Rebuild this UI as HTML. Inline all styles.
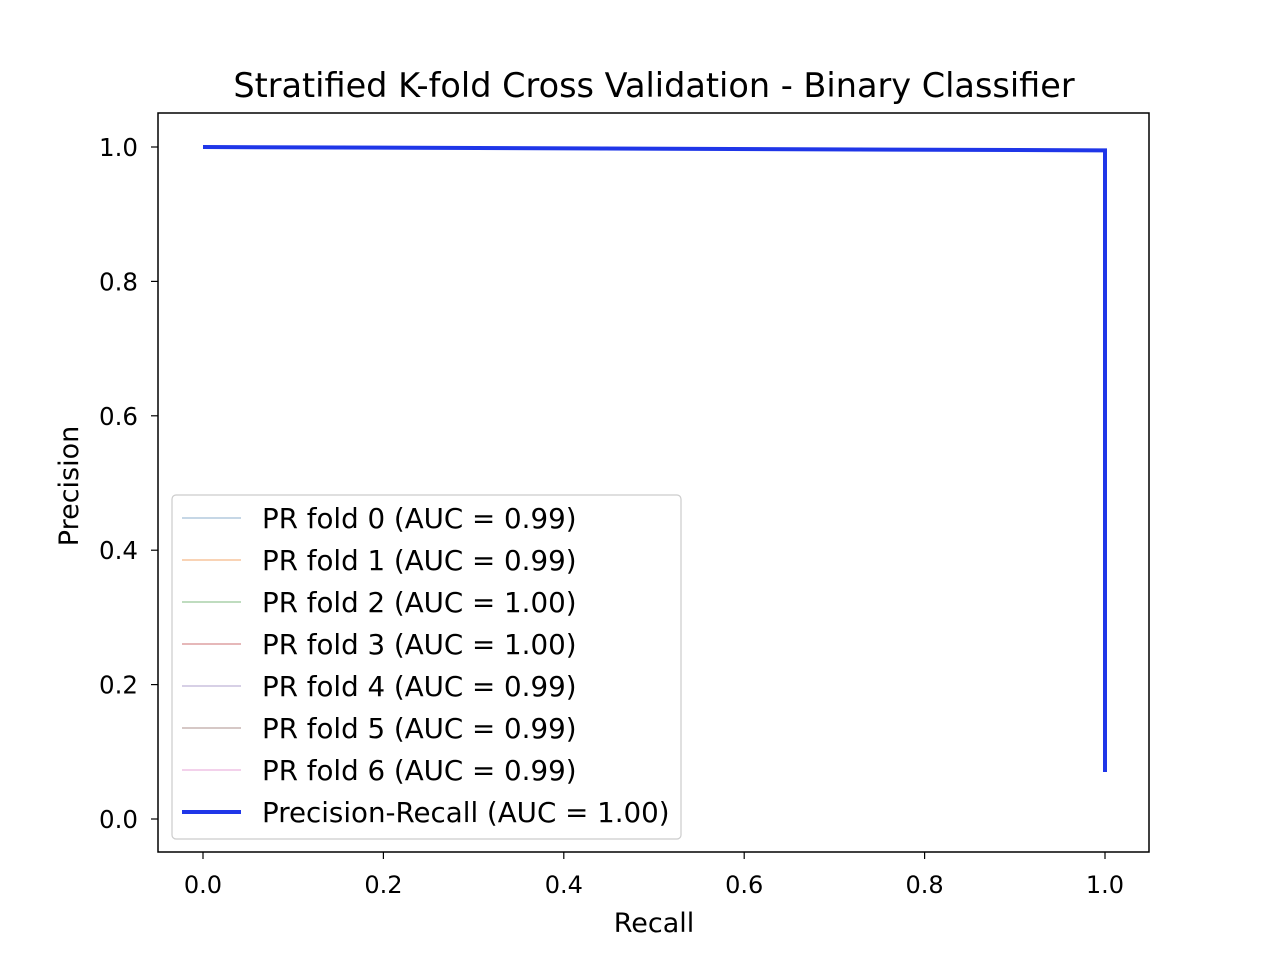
<!DOCTYPE html>
<html><head><meta charset="utf-8"><style>
body{margin:0;background:#fff}
svg text{font-family:"DejaVu Sans","Liberation Sans",sans-serif;fill:#000}
</style></head><body>
<svg id="chart" width="1274" height="956" xmlns="http://www.w3.org/2000/svg">
<rect width="1274" height="956" fill="#fff"/>
<text x="654" y="97" font-size="33.5" text-anchor="middle">Stratified K-fold Cross Validation - Binary Classifier</text>
<g id="marks"></g>
<rect x="158" y="113" width="991" height="739" fill="none" stroke="#000" stroke-width="1.5"/>
<g id="ticks"></g>
<text x="654" y="932" font-size="27" text-anchor="middle">Recall</text>
<text transform="translate(78,486) rotate(-90)" font-size="27" text-anchor="middle">Precision</text>
<g id="legend"></g>
</svg>
<script>
const xTicks=[0,0.2,0.4,0.6,0.8,1.0];
const yTicks=[0,0.2,0.4,0.6,0.8,1.0];
const meanRecall=[0,0.995,1.0,1.0];
const meanPrecision=[1.0,0.995,0.995,0.07];
const legendLabels=["PR fold 0 (AUC = 0.99)","PR fold 1 (AUC = 0.99)","PR fold 2 (AUC = 1.00)","PR fold 3 (AUC = 1.00)","PR fold 4 (AUC = 0.99)","PR fold 5 (AUC = 0.99)","PR fold 6 (AUC = 0.99)","Precision-Recall (AUC = 1.00)"];
const legendColors=["#c6d7e6","#f9d3b5","#bfdcbf","#e6b8b9","#d7d0e6","#d6c8c6","#f3d1eb","#1f36e8"];
const NS="http://www.w3.org/2000/svg";
const xs=v=>203+v*(1105-203);
const ys=v=>819-v*(819-147);
function mk(t,a,p){const e=document.createElementNS(NS,t);for(const k in a)e.setAttribute(k,a[k]);p.appendChild(e);return e;}
const marks=document.getElementById('marks');
const line=mk('polyline',{points:meanRecall.map((r,i)=>xs(r)+','+ys(meanPrecision[i])).join(' '),fill:'none',stroke:'#1f36e8','stroke-width':4,'stroke-linejoin':'miter'},marks);


const tg=document.getElementById('ticks');
xTicks.forEach(v=>{
 const l=mk('line',{x1:xs(v),x2:xs(v),y1:852,y2:859,stroke:'#000','stroke-width':1.2},tg);
 
 
 const t=mk('text',{x:xs(v),y:893,'font-size':24,'text-anchor':'middle'},tg);t.textContent=v.toFixed(1);
 
 
});
yTicks.forEach(v=>{
 const l=mk('line',{x1:151,x2:158,y1:ys(v),y2:ys(v),stroke:'#000','stroke-width':1.2},tg);
 
 
 const t=mk('text',{x:138,y:ys(v)+9,'font-size':24.5,'text-anchor':'end'},tg);t.textContent=v.toFixed(1);
 
 
});
const lg=document.getElementById('legend');
const box=mk('rect',{x:172,y:495,width:509,height:344,rx:4,fill:'#fff','fill-opacity':0.8,stroke:'#ccc','stroke-width':1.2},lg);


legendLabels.forEach((s,i)=>{
 const y=518+i*42;
 const last=i===legendLabels.length-1;
 const l=mk('line',{x1:182,x2:241,y1:y,y2:y,stroke:legendColors[i],'stroke-width':last?4:2},lg);
 
 
 const t=mk('text',{x:262,y:y+10,'font-size':27.7},lg);t.textContent=s;
 
 
});
</script>
</body></html>
